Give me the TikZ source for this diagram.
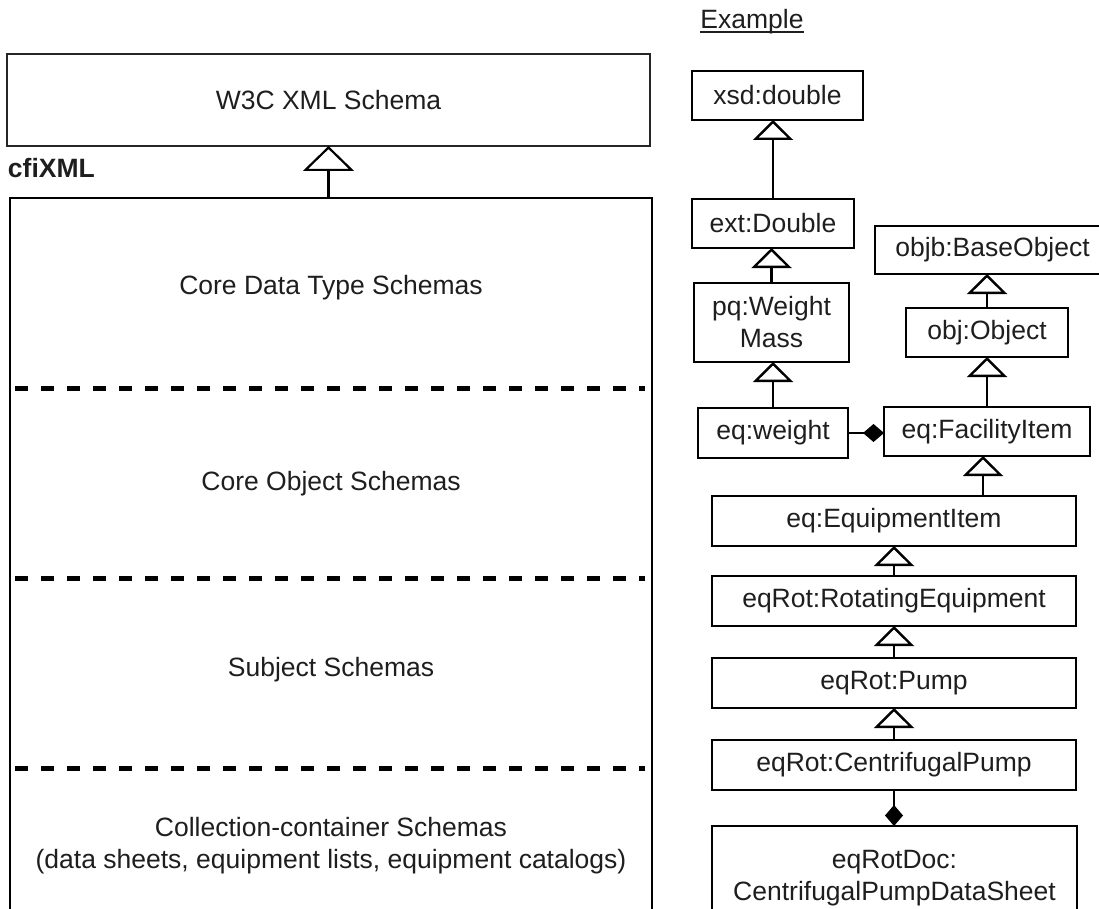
\documentclass[tikz,border=0pt]{standalone}
\usepackage{fontspec}
\setmainfont{Liberation Sans}
\usetikzlibrary{arrows.meta}
\definecolor{ink}{HTML}{1E1E1E}

\begin{document}
\begin{tikzpicture}[x=1pt, y=-1pt,
  every node/.style={font=\fontsize{26.5}{32}\selectfont, text=ink, inner sep=0pt, outer sep=0pt, align=center},
  box/.style={draw, line width=2.6pt},
  inh/.style={draw, line width=2.6pt, -{Triangle[open, length=20pt, width=40pt, line width=2.4pt]}},
  biginh/.style={draw, line width=2.2pt, -{Triangle[open, length=25pt, width=51pt, line width=2.2pt]}},
  comp/.style={draw, line width=2.6pt, -{Diamond[length=21pt, width=18pt]}},
  sep/.style={line width=5pt, dash pattern=on 13pt off 13pt}
]
\useasboundingbox (0,0) rectangle (1099,909);
\clip (0,0) rectangle (1099,909);

% ---- left: layered cfiXML schemas ----
\node[box, draw=black!85, line width=2pt, minimum width=643pt, minimum height=92pt] (w3c) at (328.5,100) {W3C XML Schema};
\node[anchor=west, font=\fontsize{26.5}{32}\selectfont\bfseries] (cfi) at (8,168) {cfiXML};
\node[box, minimum width=642pt, minimum height=740pt] (cfixml) at (331,568) {};
\draw[biginh] (w3c.south |- cfixml.north) -- (w3c.south);

\draw[sep] (15,388) -- (645,388);
\draw[sep] (15,578) -- (645,578);
\draw[sep] (15,768) -- (645,768);

\node (core) at (331,288) {Core Data Type Schemas};
\node (obs) at (331,484) {Core Object Schemas};
\node (subj) at (331,670) {Subject Schemas};
\node (coll) at (331,846) {Collection-container Schemas\\(data sheets, equipment lists, equipment catalogs)};

% ---- right: example hierarchy ----
\node[anchor=base] (ex) at (752,29) {Example};
\draw[line width=1.5pt, ink] ([yshift=-3pt]ex.base west) -- ([yshift=-3pt]ex.base east);

\node[box, minimum width=171pt, minimum height=49pt] (xsd) at (777.5,95.5) {xsd:double};
\node[box, minimum width=162pt, minimum height=49pt] (ext) at (773,223.5) {ext:Double};
\node[box, minimum width=155pt, minimum height=79pt] (pq) at (771.5,322.5) {pq:Weight\\Mass};
\node[box, minimum width=150pt, minimum height=50pt] (eqw) at (773,433) {eq:weight};

\node[box, minimum width=235pt, minimum height=48pt] (objb) at (992.5,250) {objb:BaseObject};
\node[box, minimum width=162pt, minimum height=49pt] (obj) at (987,332.5) {obj:Object};
\node[box, minimum width=206pt, minimum height=49pt] (fac) at (987,431.5) {eq:FacilityItem};

\node[box, minimum width=364pt, minimum height=50pt] (equip) at (894,521) {eq:EquipmentItem};
\node[box, minimum width=364pt, minimum height=50pt] (rot) at (894,601) {eqRot:RotatingEquipment};
\node[box, minimum width=364pt, minimum height=50pt] (pump) at (894,683) {eqRot:Pump};
\node[box, minimum width=364pt, minimum height=50pt] (cent) at (894,765) {eqRot:CentrifugalPump};
\node[box, minimum width=365pt, minimum height=104pt] (doc) at (894.5,878) {eqRotDoc:\\CentrifugalPumpDataSheet};

% generalisation links
\draw[inh] (ext.north) -- (ext.north |- xsd.south);
\draw[inh] (pq.north) -- (pq.north |- ext.south);
\draw[inh] (eqw.north) -- (eqw.north |- pq.south);
\draw[inh] (obj.north) -- (obj.north |- objb.south);
\draw[inh] (fac.north) -- (fac.north |- obj.south);
\draw[inh] ([xshift=-4pt]fac.south |- equip.north) -- ([xshift=-4pt]fac.south);
\draw[inh] (rot.north) -- (rot.north |- equip.south);
\draw[inh] (pump.north) -- (pump.north |- rot.south);
\draw[inh] (cent.north) -- (cent.north |- pump.south);

% composition links
\draw[comp] (eqw.east) -- (eqw.east -| fac.west);
\draw[comp] (cent.south) -- (cent.south |- doc.north);
\end{tikzpicture}
\end{document}
